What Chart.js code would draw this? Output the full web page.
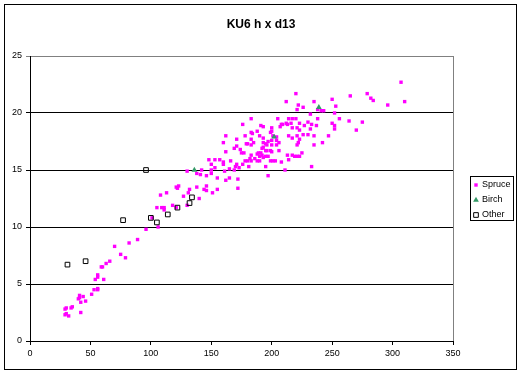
<!DOCTYPE html>
<html>
<head>
<meta charset="utf-8">
<script src="https://cdn.jsdelivr.net/npm/chart.js@4/dist/chart.umd.min.js"></script>
<style>
  body { margin: 0; background: #fff; }
</style>
</head>
<body>
<canvas id="myChart" width="521" height="375"></canvas>
<script>
// d13 (x) and h (y) per species
var spruceD = [
  29, 30, 29, 30, 32, 34, 35, 40, 41, 41, 42, 42, 44, 46, 51, 53, 54, 56, 56, 56,
  56, 61, 59, 60, 63, 66, 70, 75, 79, 82, 89, 96, 106, 101,
  105, 109, 111, 111, 108, 113, 118, 121, 130, 127, 131, 121, 123, 122, 132, 138,
  146, 146, 144, 140, 151, 155, 138, 141, 142, 146, 130, 148, 150, 150, 150, 153,
  153, 155, 157, 160, 160, 161, 162, 165, 166, 165, 169, 170, 173, 172, 172, 171,
  176, 178, 180, 181, 182, 183, 183, 186, 188, 188, 189, 190, 190, 191, 192, 192,
  193, 195, 195, 197, 199, 201, 203, 208, 195, 197, 200, 196, 199, 206, 211, 214,
  213, 217, 219, 221, 223, 225, 233,
  162, 160, 162, 169, 171, 171, 174, 175, 177, 176, 178, 179, 180, 183, 183, 184,
  183, 185, 183, 188, 190, 191, 193, 193, 193, 193, 195, 196, 197, 199, 200, 200,
  201, 200, 200, 204, 204, 204, 206, 205, 208, 209, 207, 212, 213, 212, 214, 217,
  220, 216, 217, 221, 214, 217, 220, 221, 222, 226, 221, 221, 222, 223, 223, 223,
  226, 227, 230, 230, 232, 233, 232, 235, 235, 235, 237, 238, 238, 241, 243, 242,
  247, 250, 253, 252, 256, 250, 252, 252, 265, 264, 275, 270, 279, 282, 284, 296,
  307, 310
];
var spruceH = [
  2.8, 2.9, 2.3, 2.4, 2.2, 2.9, 3.0, 3.7, 4.0, 3.8, 3.4, 2.5, 3.9, 3.5, 4.1, 4.5, 5.4, 5.6, 5.8, 4.5,
  4.6, 5.4, 6.5, 6.5, 6.8, 7.0, 8.3, 7.6, 7.3, 8.6, 8.9, 9.8, 10.0, 10.8,
  11.7, 11.7, 11.7, 11.5, 12.8, 13.0, 11.9, 11.7, 11.9, 12.7, 13.0, 13.5, 13.6, 13.4, 13.3, 13.5,
  13.6, 13.2, 13.3, 12.5, 13.0, 13.3, 14.7, 14.6, 15.0, 14.5, 14.9, 15.9, 15.5, 15.0, 14.7, 15.9,
  15.2, 14.3, 15.9, 15.7, 15.5, 14.9, 14.1, 14.3, 15.8, 15.1, 15.0, 15.3, 15.2, 14.2, 13.4, 15.5,
  15.5, 15.8, 15.8, 15.3, 16.0, 16.3, 15.8, 16.0, 15.8, 16.4, 16.5, 15.8, 16.2, 16.5, 16.9, 16.3,
  16.1, 16.7, 16.2, 16.2, 15.8, 15.8, 15.8, 15.7, 15.3, 14.5, 16.6, 16.7, 16.7, 16.7, 15.0, 15.9,
  16.3, 16.3, 16.2, 16.2, 16.2, 16.5, 15.3,
  18.0, 17.4, 16.6, 16.9, 17.1, 17.7, 16.8, 16.5, 16.5, 19.0, 18.0, 17.3, 17.3, 19.5, 18.3, 18.2,
  17.7, 17.4, 17.2, 18.4, 18.0, 18.9, 18.8, 17.8, 17.4, 17.0, 17.3, 17.2, 17.5, 18.3, 18.7, 18.4,
  18.0, 17.6, 17.2, 17.9, 17.6, 17.2, 17.4, 19.5, 19.0, 19.0, 18.8, 19.1, 19.0, 21.0, 19.5, 19.5,
  19.5, 19.1, 18.7, 18.7, 18.0, 17.8, 21.7, 20.3, 20.7, 20.5, 18.0, 17.2, 17.4, 17.7, 19.1, 18.5,
  18.1, 18.9, 19.2, 18.1, 18.6, 19.0, 19.9, 21.0, 18.0, 17.2, 18.9, 19.5, 20.3, 20.2, 20.2, 17.4,
  18.0, 21.2, 20.6, 20.0, 19.5, 19.1, 18.9, 18.6, 21.5, 19.3, 19.2, 18.5, 21.7, 21.3, 21.1, 20.7,
  22.7, 21.0
];
var birchD = [136, 202, 239];
var birchH = [15.0, 17.9, 20.5];
var otherD = [31, 46, 77, 96, 100, 105, 114, 122, 132, 134];
var otherH = [6.7, 7.0, 10.6, 15.0, 10.8, 10.4, 11.1, 11.7, 12.1, 12.6];

var xTicks = [0, 50, 100, 150, 200, 250, 300, 350];
var yTicks = [0, 5, 10, 15, 20, 25];
var chartTitle = "KU6 h x d13";

var fontFamily = "'Liberation Sans', Arial, sans-serif";

function toPoints(xs, ys) {
  return xs.map(function (x, i) {
    return { x: x, y: ys[i] };
  });
}

function alignPx(v) {
  return Math.round(v - 0.5) + 0.5;
}

// outer frame, title centred on the whole frame, gray right edge, boxed legend
var framePlugin = {
  id: "frame",
  beforeDraw: function (chart) {
    var c = chart.ctx;
    c.save();
    c.fillStyle = "#fff";
    c.fillRect(0, 0, chart.width, chart.height);
    c.strokeStyle = "#000";
    c.lineWidth = 1;
    c.strokeRect(4.5, 4.5, 512, 365);
    c.fillStyle = "#000";
    c.font = "bold 12px " + fontFamily;
    c.textAlign = "center";
    c.textBaseline = "middle";
    c.fillText(chartTitle, 261, 25);
    c.restore();
  },
  afterDraw: function (chart) {
    var c = chart.ctx;
    var a = chart.chartArea;
    c.save();
    c.strokeStyle = "#808080";
    c.lineWidth = 1;
    c.beginPath();
    c.moveTo(alignPx(a.right), a.top);
    c.lineTo(alignPx(a.right), a.bottom);
    c.stroke();

    var bx = 470, by = 176, bw = 43, bh = 44;
    c.fillStyle = "#fff";
    c.fillRect(bx, by, bw, bh);
    c.strokeStyle = "#000";
    c.strokeRect(bx + 0.5, by + 0.5, bw, bh);
    c.font = "9px " + fontFamily;
    c.textBaseline = "middle";
    chart.data.datasets.forEach(function (ds, i) {
      var y = by + 9 + i * 15;
      c.fillStyle = ds.backgroundColor;
      c.strokeStyle = ds.borderColor;
      c.lineWidth = ds.borderWidth;
      Chart.helpers.drawPoint(c, {
        pointStyle: ds.pointStyle,
        radius: ds.pointRadius,
        borderWidth: ds.borderWidth,
        rotation: 0
      }, bx + 6, y);
      c.fillStyle = "#000";
      c.fillText(ds.label, bx + 12, y);
    });
    c.restore();
  }
};

var ctx = document.getElementById("myChart").getContext("2d");
var myChart = new Chart(ctx, {
  type: "scatter",
  data: {
    datasets: [
      {
        label: "Spruce",
        data: toPoints(spruceD, spruceH),
        pointStyle: "rect",
        pointRadius: 2.4,
        backgroundColor: "#FF00FF",
        borderColor: "#FF00FF",
        borderWidth: 0,
        order: 3
      },
      {
        label: "Birch",
        data: toPoints(birchD, birchH),
        pointStyle: "triangle",
        pointRadius: 3.3,
        backgroundColor: "#339966",
        borderColor: "#339966",
        borderWidth: 0,
        order: 2
      },
      {
        label: "Other",
        data: toPoints(otherD, otherH),
        pointStyle: "rect",
        pointRadius: 3.3,
        backgroundColor: "rgba(0,0,0,0)",
        borderColor: "#000",
        borderWidth: 1,
        order: 1
      }
    ]
  },
  options: {
    responsive: false,
    animation: false,
    events: [],
    layout: { padding: { left: 4, top: 56, right: 68, bottom: 5 } },
    plugins: {
      legend: { display: false },
      tooltip: { enabled: false },
      title: { display: false }
    },
    scales: {
      x: {
        type: "linear",
        min: xTicks[0],
        max: xTicks[xTicks.length - 1],
        afterBuildTicks: function (s) {
          s.ticks = xTicks.map(function (v) { return { value: v }; });
        },
        afterFit: function (s) { s.height = 29; },
        grid: { drawOnChartArea: false, drawTicks: true, tickLength: 4, color: "#000" },
        border: { display: true, color: "#000" },
        ticks: { color: "#000", padding: 3, maxRotation: 0, font: { family: fontFamily, size: 9 } }
      },
      y: {
        type: "linear",
        min: yTicks[0],
        max: yTicks[yTicks.length - 1],
        afterBuildTicks: function (s) {
          s.ticks = yTicks.map(function (v) { return { value: v }; });
        },
        afterFit: function (s) { s.width = 26; },
        grid: {
          drawTicks: true,
          tickLength: 4,
          color: function (c) { return c.tick && c.tick.value === 25 ? "#808080" : "#000"; }
        },
        border: { display: true, color: "#000" },
        ticks: { color: "#000", padding: 4, font: { family: fontFamily, size: 9 } }
      }
    }
  },
  plugins: [framePlugin]
});
</script>
</body>
</html>
